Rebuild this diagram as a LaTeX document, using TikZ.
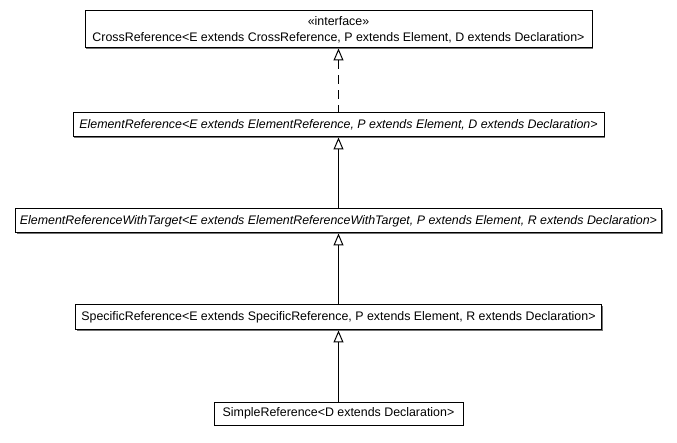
\documentclass[tikz,border=0pt]{standalone}
\usepackage{fontspec}
\setmainfont{Liberation Sans}
\usetikzlibrary{arrows.meta, positioning, shadows}

\begin{document}
\begin{tikzpicture}[x=1pt, y=1pt, node distance=71pt, every node/.style={font=\fontsize{12.4}{16}\selectfont},
    umlclass/.style={draw, rectangle, fill=white, line width=1pt, inner xsep=3pt, inner ysep=0pt, minimum height=24pt,
        drop shadow={shadow xshift=1.2pt, shadow yshift=-1.2pt, fill=black!55, opacity=1}},
    realize/.style={{Triangle[open, length=12pt, width=10pt]}-, line width=1pt, dash pattern=on 9pt off 6pt},
    extend/.style={{Triangle[open, length=12pt, width=10pt]}-, line width=1pt}]
    \useasboundingbox (0,0) rectangle (677,-443);
    \node[umlclass, minimum width=507pt, minimum height=37pt, align=center] (cross) at (338.5,-29.5) {«interface»\\CrossReference<E extends CrossReference, P extends Element, D extends Declaration>};
    \node[umlclass, minimum width=531pt, below=64pt of cross] (elem) {\itshape ElementReference<E extends ElementReference, P extends Element, D extends Declaration>};
    \node[umlclass, minimum width=646pt, below=of elem] (target) {\itshape ElementReferenceWithTarget<E extends ElementReferenceWithTarget, P extends Element, R extends Declaration>};
    \node[umlclass, minimum width=526pt, minimum height=25pt, below=of target] (specific) {SpecificReference<E extends SpecificReference, P extends Element, R extends Declaration>};
    \node[umlclass, minimum width=249pt, minimum height=23pt, below=of specific] (simple) {SimpleReference<D extends Declaration>};

    \draw[realize] (cross) -- (elem);
    \draw[extend] (elem) -- (target);
    \draw[extend] (target) -- (specific);
    \draw[extend] (specific) -- (simple);
\end{tikzpicture}
\end{document}
